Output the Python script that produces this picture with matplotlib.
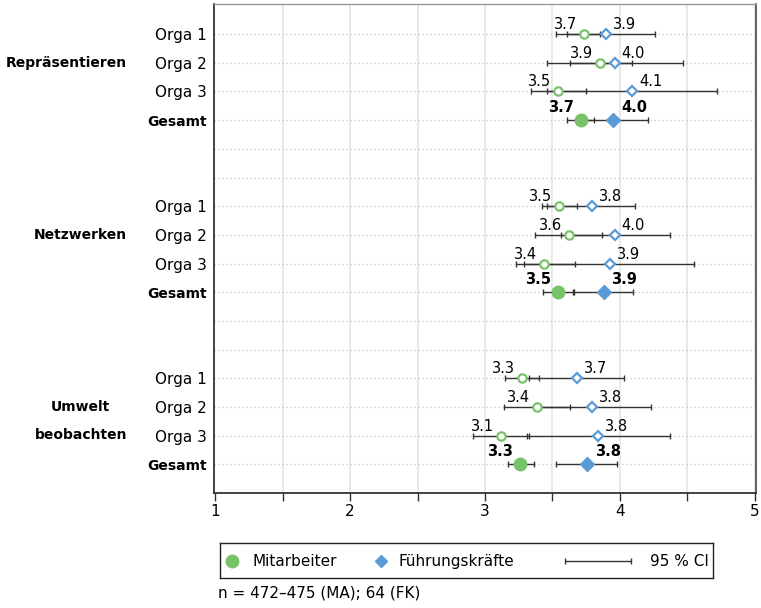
import matplotlib
matplotlib.use("Agg")
import matplotlib.pyplot as plt
import matplotlib.transforms as mtransforms
import numpy as np

plt.rcParams['font.family'] = ['DejaVu Sans']

groups = ["Repräsentieren", "Netzwerken", "Umwelt\nbeobachten"]
subrows = ["Orga 1", "Orga 2", "Orga 3", "Gesamt"]

# Mitarbeiter (MA)
ma_mean = [[3.736, 3.855, 3.538, 3.711],
           [3.548, 3.622, 3.440, 3.538],
           [3.277, 3.384, 3.119, 3.262]]
ma_lo = [[3.61, 3.63, 3.34, 3.61],
         [3.42, 3.37, 3.23, 3.43],
         [3.15, 3.14, 2.91, 3.17]]
ma_hi = [[3.85, 4.09, 3.75, 3.81],
         [3.68, 3.87, 3.67, 3.65],
         [3.40, 3.63, 3.33, 3.36]]
# Führungskräfte (FK)
fk_mean = [[3.897, 3.962, 4.090, 3.953],
           [3.796, 3.963, 3.924, 3.880],
           [3.682, 3.796, 3.840, 3.756]]
fk_lo = [[3.53, 3.46, 3.46, 3.69],
         [3.46, 3.56, 3.29, 3.66],
         [3.33, 3.37, 3.31, 3.53]]
fk_hi = [[4.26, 4.47, 4.72, 4.21],
         [4.11, 4.37, 4.55, 4.10],
         [4.03, 4.23, 4.37, 3.98]]

xticks = [1, 2, 3, 4, 5]
legend_labels = ["Mitarbeiter", "Führungskräfte", "95 % CI"]
footnote = "n = 472–475 (MA); 64 (FK)"

GREEN = "#78c369"
BLUE = "#5b9bd5"
DARK = "#333333"

fig = plt.figure(figsize=(7.61, 6.08), dpi=100)
ax = fig.add_axes([214/761, 1-493/608, 542/761, 489/608])

ax.set_xlim(0.99, 5.01)
ax.set_ylim(16, -1.05)

n_groups = len(groups)
n_sub = len(subrows)
row_gap = 2

yticks = []
yticklabels = []
for g in range(n_groups):
    for i in range(n_sub):
        y = g * (n_sub + row_gap) + i
        yticks.append(y)
        yticklabels.append(subrows[i])
        is_total = (subrows[i] == "Gesamt")
        m_ma, m_fk = ma_mean[g][i], fk_mean[g][i]
        for m, lo, hi in ((m_ma, ma_lo[g][i], ma_hi[g][i]), (m_fk, fk_lo[g][i], fk_hi[g][i])):
            ax.errorbar([m], [y], xerr=[[m - lo], [hi - m]], fmt='none',
                        ecolor=DARK, elinewidth=1.0, capsize=2.2, capthick=1.0, zorder=3)
        if is_total:
            ax.plot([m_ma], [y], marker='o', ms=9, color=GREEN, mec=GREEN, ls='none', zorder=5)
            ax.plot([m_fk], [y], marker='D', ms=7, color=BLUE, mec=BLUE, ls='none', zorder=5)
            ax.annotate(f"{m_ma:.1f}", (m_ma, y), xytext=(-5, 6), textcoords='offset points',
                        ha='right', va='baseline', fontsize=10.5, fontweight='bold', zorder=6)
            ax.annotate(f"{m_fk:.1f}", (m_fk, y), xytext=(5.5, 6), textcoords='offset points',
                        ha='left', va='baseline', fontsize=10.5, fontweight='bold', zorder=6)
        else:
            ax.plot([m_ma], [y], marker='o', ms=6, mfc='white', mec=GREEN, mew=1.6, ls='none', zorder=5)
            ax.plot([m_fk], [y], marker='D', ms=5.5, mfc='white', mec=BLUE, mew=1.6, ls='none', zorder=5)
            ax.annotate(f"{m_ma:.1f}", (m_ma, y), xytext=(-5, 3.6), textcoords='offset points',
                        ha='right', va='baseline', fontsize=10.5, zorder=6)
            ax.annotate(f"{m_fk:.1f}", (m_fk, y), xytext=(5, 3.6), textcoords='offset points',
                        ha='left', va='baseline', fontsize=10.5, zorder=6)

# horizontal dotted row lines (all rows including empty ones)
for r in range(0, n_groups * (n_sub + row_gap) - row_gap):
    ax.axhline(r, color='#c8c8c8', lw=0.9, ls=(0, (1, 2.2)), zorder=1)

# vertical grid every 0.5
ax.set_xticks(xticks)
ax.set_xticks(np.arange(1.5, 5, 1.0), minor=True)
for xv in np.arange(1.5, 5.01, 0.5):
    ax.axvline(xv, color='#e3e3e3', lw=1.1, zorder=0)

ax.set_xticklabels([str(t) for t in xticks], fontsize=11)
ax.tick_params(axis='x', which='both', direction='out', length=6, width=1.0, color=DARK, pad=2)
ax.set_yticks(yticks)
ax.set_yticklabels(yticklabels, fontsize=11)
for lbl in ax.get_yticklabels():
    if lbl.get_text() == "Gesamt":
        lbl.set_fontweight('bold')
        lbl.set_fontsize(10)
ax.tick_params(axis='y', length=0, pad=5)

for s in ('left', 'bottom'):
    ax.spines[s].set_color(DARK)
    ax.spines[s].set_linewidth(1.3)
ax.spines['right'].set_color('#444444')
ax.spines['right'].set_linewidth(1.2)
ax.spines['top'].set_color('#999999')
ax.spines['top'].set_linewidth(1.0)

# group labels
trans = mtransforms.blended_transform_factory(fig.transFigure, ax.transData)
for g, name in enumerate(groups):
    yc = g * (n_sub + row_gap) + (1.5 if "\n" in name else 1)
    fig.text(127/761, yc, name, transform=trans, ha='right', va='center',
             multialignment='center', fontsize=10, fontweight='bold', linespacing=2.25)

# legend box
lax = fig.add_axes([220/761, 1-578/608, 493/761, 35/608])
lax.set_xlim(0, 493)
lax.set_ylim(0, 1)
lax.set_xticks([])
lax.set_yticks([])
for s in lax.spines.values():
    s.set_color('#222222')
    s.set_linewidth(1.0)
lax.plot([12], [0.5], marker='o', ms=9, color=GREEN, ls='none')
lax.text(32, 0.47, legend_labels[0], ha='left', va='center', fontsize=11)
lax.plot([161], [0.5], marker='D', ms=6.5, color=BLUE, ls='none')
lax.text(178, 0.47, legend_labels[1], ha='left', va='center', fontsize=11)
lax.errorbar([378], [0.5], xerr=[[33], [33]], fmt='none', ecolor=DARK, elinewidth=1.0,
             capsize=2.2, capthick=1.0)
lax.text(430, 0.47, legend_labels[2], ha='left', va='center', fontsize=11)

fig.text(218/761, 1-593/608, footnote, ha='left', va='center', fontsize=11)

fig.savefig("out.png", dpi=100)
